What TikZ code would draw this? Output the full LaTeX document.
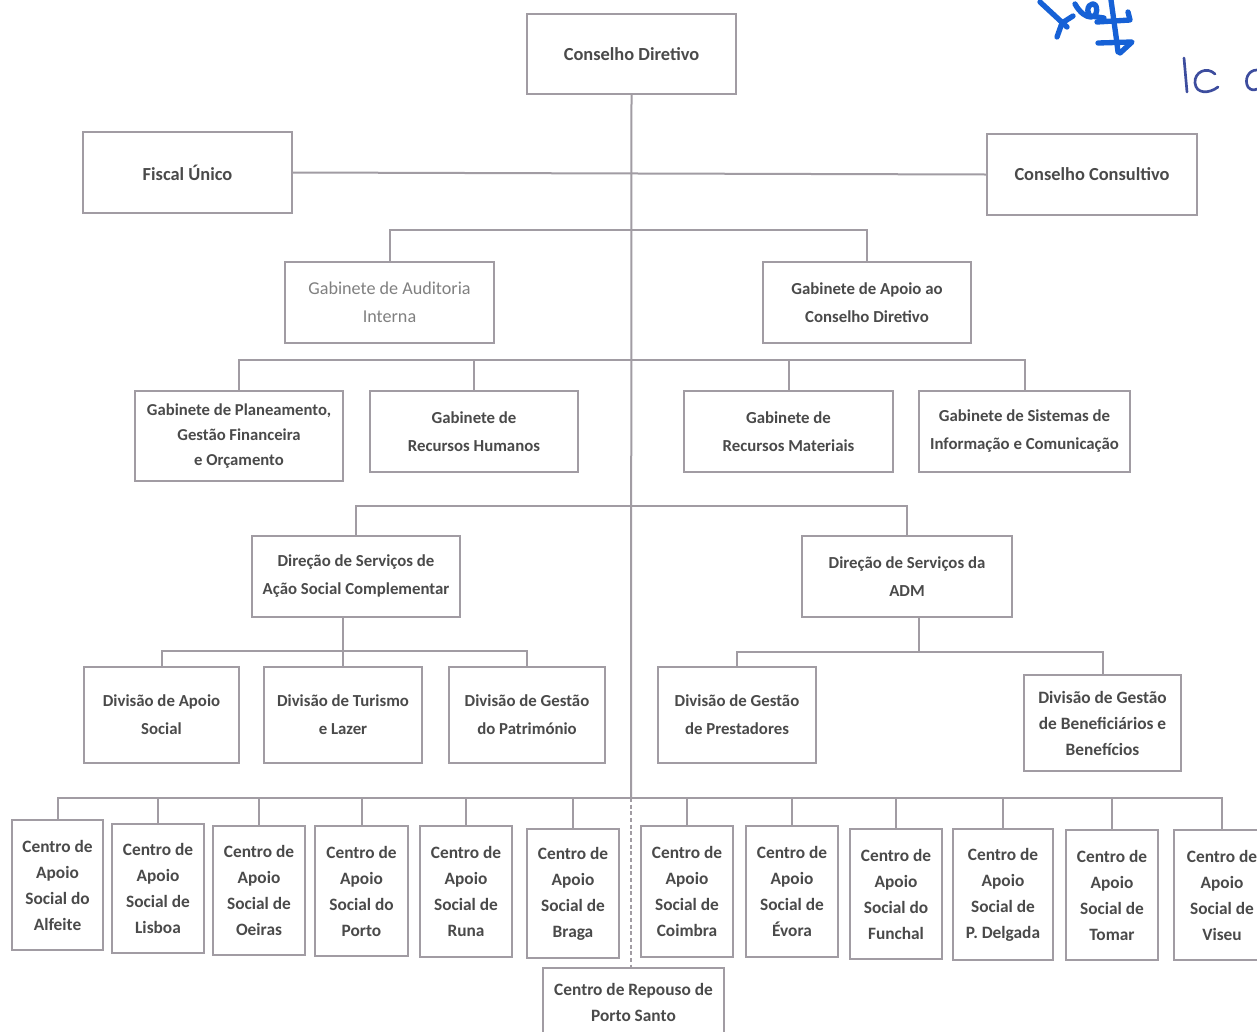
\documentclass[tikz,border=0pt]{standalone}
\usepackage{fontspec}
\setmainfont{Carlito}
\usetikzlibrary{fit}
\definecolor{boxgray}{HTML}{A19CA3}
\definecolor{txtgray}{HTML}{4A4A4A}
\definecolor{lighttxt}{HTML}{808080}
\definecolor{inkblue}{HTML}{1661D6}
\definecolor{inkdark}{HTML}{3D4D9E}
\newcommand\bx[7][]{\node[boxframe,fit={(#3,#4)(#5,#6)}] (#2) {};
  \node[boxtext,#1] at (#2.center) {#7};}
\begin{document}
\begin{tikzpicture}[x=0.75pt,y=-0.75pt,
  boxframe/.style={draw=boxgray,line width=1.5pt,inner sep=0pt},
  boxtext/.style={inner sep=0pt,align=center,text=txtgray,
    font=\bfseries\fontsize{12.6}{21}\selectfont},
  big/.style={font=\bfseries\fontsize{13.8}{21}\selectfont},
  tight/.style={font=\bfseries\fontsize{12.5}{18.5}\selectfont},
  centro/.style={font=\bfseries\fontsize{13}{19.5}\selectfont},
  link/.style={draw=boxgray,line width=1.5pt},
  dashlink/.style={draw=boxgray,line width=1.1pt,dash pattern=on 3pt off 2pt},
  ink/.style={draw=inkblue,line width=4pt,line cap=round,line join=round},
  inkd/.style={draw=inkdark,line width=2pt,line cap=round,line join=round}]
\fill[white] (0,0) rectangle (1257,1032);
\useasboundingbox (0,0) rectangle (1257,1032);

% boxes
\bx[big]{cd}{527}{14}{736}{94}{Conselho Diretivo}
\bx[big]{fu}{83}{132}{292}{213}{Fiscal Único}
\bx[big]{cc}{987}{134}{1197}{215}{Conselho Consultivo}
\bx[text=lighttxt,font=\fontsize{13.6}{21}\selectfont]{gai}{285}{262}{494}{343}{Gabinete de Auditoria\\Interna}
\bx{gacd}{763}{262}{971}{343}{Gabinete de Apoio ao\\Conselho Diretivo}
\bx[tight]{gpf}{135}{391}{343}{481}{Gabinete de Planeamento,\\Gestão Financeira\\e Orçamento}
\bx{grh}{370}{391}{578}{472}{Gabinete de\\Recursos Humanos}
\bx{grm}{684}{391}{893}{472}{Gabinete de\\Recursos Materiais}
\bx{gsi}{919}{391}{1130}{472}{Gabinete de Sistemas de\\Informação e Comunicação}
\bx{dsasc}{252}{536}{460}{617}{Direção de Serviços de\\Ação Social Complementar}
\bx{dadm}{802}{536}{1012}{617}{Direção de Serviços da\\ADM}
\bx{das}{84}{667}{239}{763}{Divisão de Apoio\\Social}
\bx{dtl}{264}{667}{422}{763}{Divisão de Turismo\\e Lazer}
\bx{dgp}{449}{667}{605}{763}{Divisão de Gestão\\do Património}
\bx{dgpr}{658}{667}{816}{763}{Divisão de Gestão\\de Prestadores}
\bx[centro]{dgb}{1024}{675}{1181}{771}{Divisão de Gestão\\de Beneficiários e\\Benefícios}

\bx[centro]{c1}{12}{820}{103}{950}{Centro de\\Apoio\\Social do\\Alfeite}
\bx[centro]{c2}{112}{824}{204}{953}{Centro de\\Apoio\\Social de\\Lisboa}
\bx[centro]{c3}{213}{826}{305}{955}{Centro de\\Apoio\\Social de\\Oeiras}
\bx[centro]{c4}{315}{826}{408}{956}{Centro de\\Apoio\\Social do\\Porto}
\bx[centro]{c5}{420}{826}{512}{957}{Centro de\\Apoio\\Social de\\Runa}
\bx[centro]{c6}{527}{829}{619}{958}{Centro de\\Apoio\\Social de\\Braga}
\bx[centro]{c7}{641}{826}{733}{957}{Centro de\\Apoio\\Social de\\Coimbra}
\bx[centro]{c8}{746}{826}{838}{957}{Centro de\\Apoio\\Social de\\Évora}
\bx[centro]{c9}{850}{829}{942}{959}{Centro de\\Apoio\\Social do\\Funchal}
\bx[centro]{c10}{953}{829}{1053}{960}{Centro de\\Apoio\\Social de\\P. Delgada}
\bx[centro]{c11}{1066}{830}{1158}{960}{Centro de\\Apoio\\Social de\\Tomar}
\bx[centro]{c12}{1174}{830}{1270}{960}{Centro de\\Apoio\\Social de\\Viseu}
\node[boxframe,fit={(543,968)(724,1045)}] (rep) {};
\node[boxtext,centro] at (633.5,1002) {Centro de Repouso de\\Porto Santo};

% level coordinates
\coordinate (l2) at (631,230);
\coordinate (l3) at (631,360);
\coordinate (l4) at (631,506);
\coordinate (l5a) at (343,651);
\coordinate (l5b) at (919,652);
\coordinate (l6) at (631,798);

% connectors
\draw[link] (cd.south) -- (l6);
\draw[dashlink] (l6) -- (l6 |- rep.north);
\draw[link] (fu.east) -- (cc.west);
\draw[link] (gai.north) |- (l2) -| (gacd.north);
\draw[link] (gpf.north) |- (l3) -| (gsi.north);
\draw[link] (grh.north) -- (grh.north |- l3);
\draw[link] (grm.north) -- (grm.north |- l3);
\draw[link] (dsasc.north) |- (l4) -| (dadm.north);
\draw[link] (dtl.north) -- (dtl.north |- dsasc.south);
\draw[link] (das.north) |- (l5a) -| (dgp.north);
\draw[link] (l5b) -- (l5b |- dadm.south);
\draw[link] (dgpr.north) |- (l5b) -| (dgb.north);
\draw[link] (c1.north) |- (l6) -| (c12.north);
\foreach \c in {c2,c3,c4,c5,c6,c7,c8,c9,c10,c11}
  \draw[link] (\c.north) -- (\c.north |- l6);

% handwritten marks
\draw[ink] (1040,2) -- (1067,27);
\draw[ink] (1057,37) -- (1062,23) -- (1073,16);
\draw[ink] (1075,4) .. controls (1085,22) and (1100,20) .. (1096,6)
  .. controls (1092,0) and (1084,8) .. (1090,16) -- (1104,18);
\draw[ink] (1111,0) -- (1116,36) -- (1118,52);
\draw[ink] (1097,22) -- (1130,20) -- (1128,12);
\draw[ink] (1098,43) -- (1132,42) -- (1120,53);
\draw[inkd] (1184,58) -- (1187,92);
\draw[inkd] (1215,74) .. controls (1207,66) and (1194,72) .. (1195,83)
  .. controls (1196,94) and (1209,94) .. (1218,87);
\draw[inkd] (1257,70) .. controls (1248,70) and (1244,80) .. (1248,87)
  .. controls (1251,91) and (1255,90) .. (1257,89);
\end{tikzpicture}
\end{document}
